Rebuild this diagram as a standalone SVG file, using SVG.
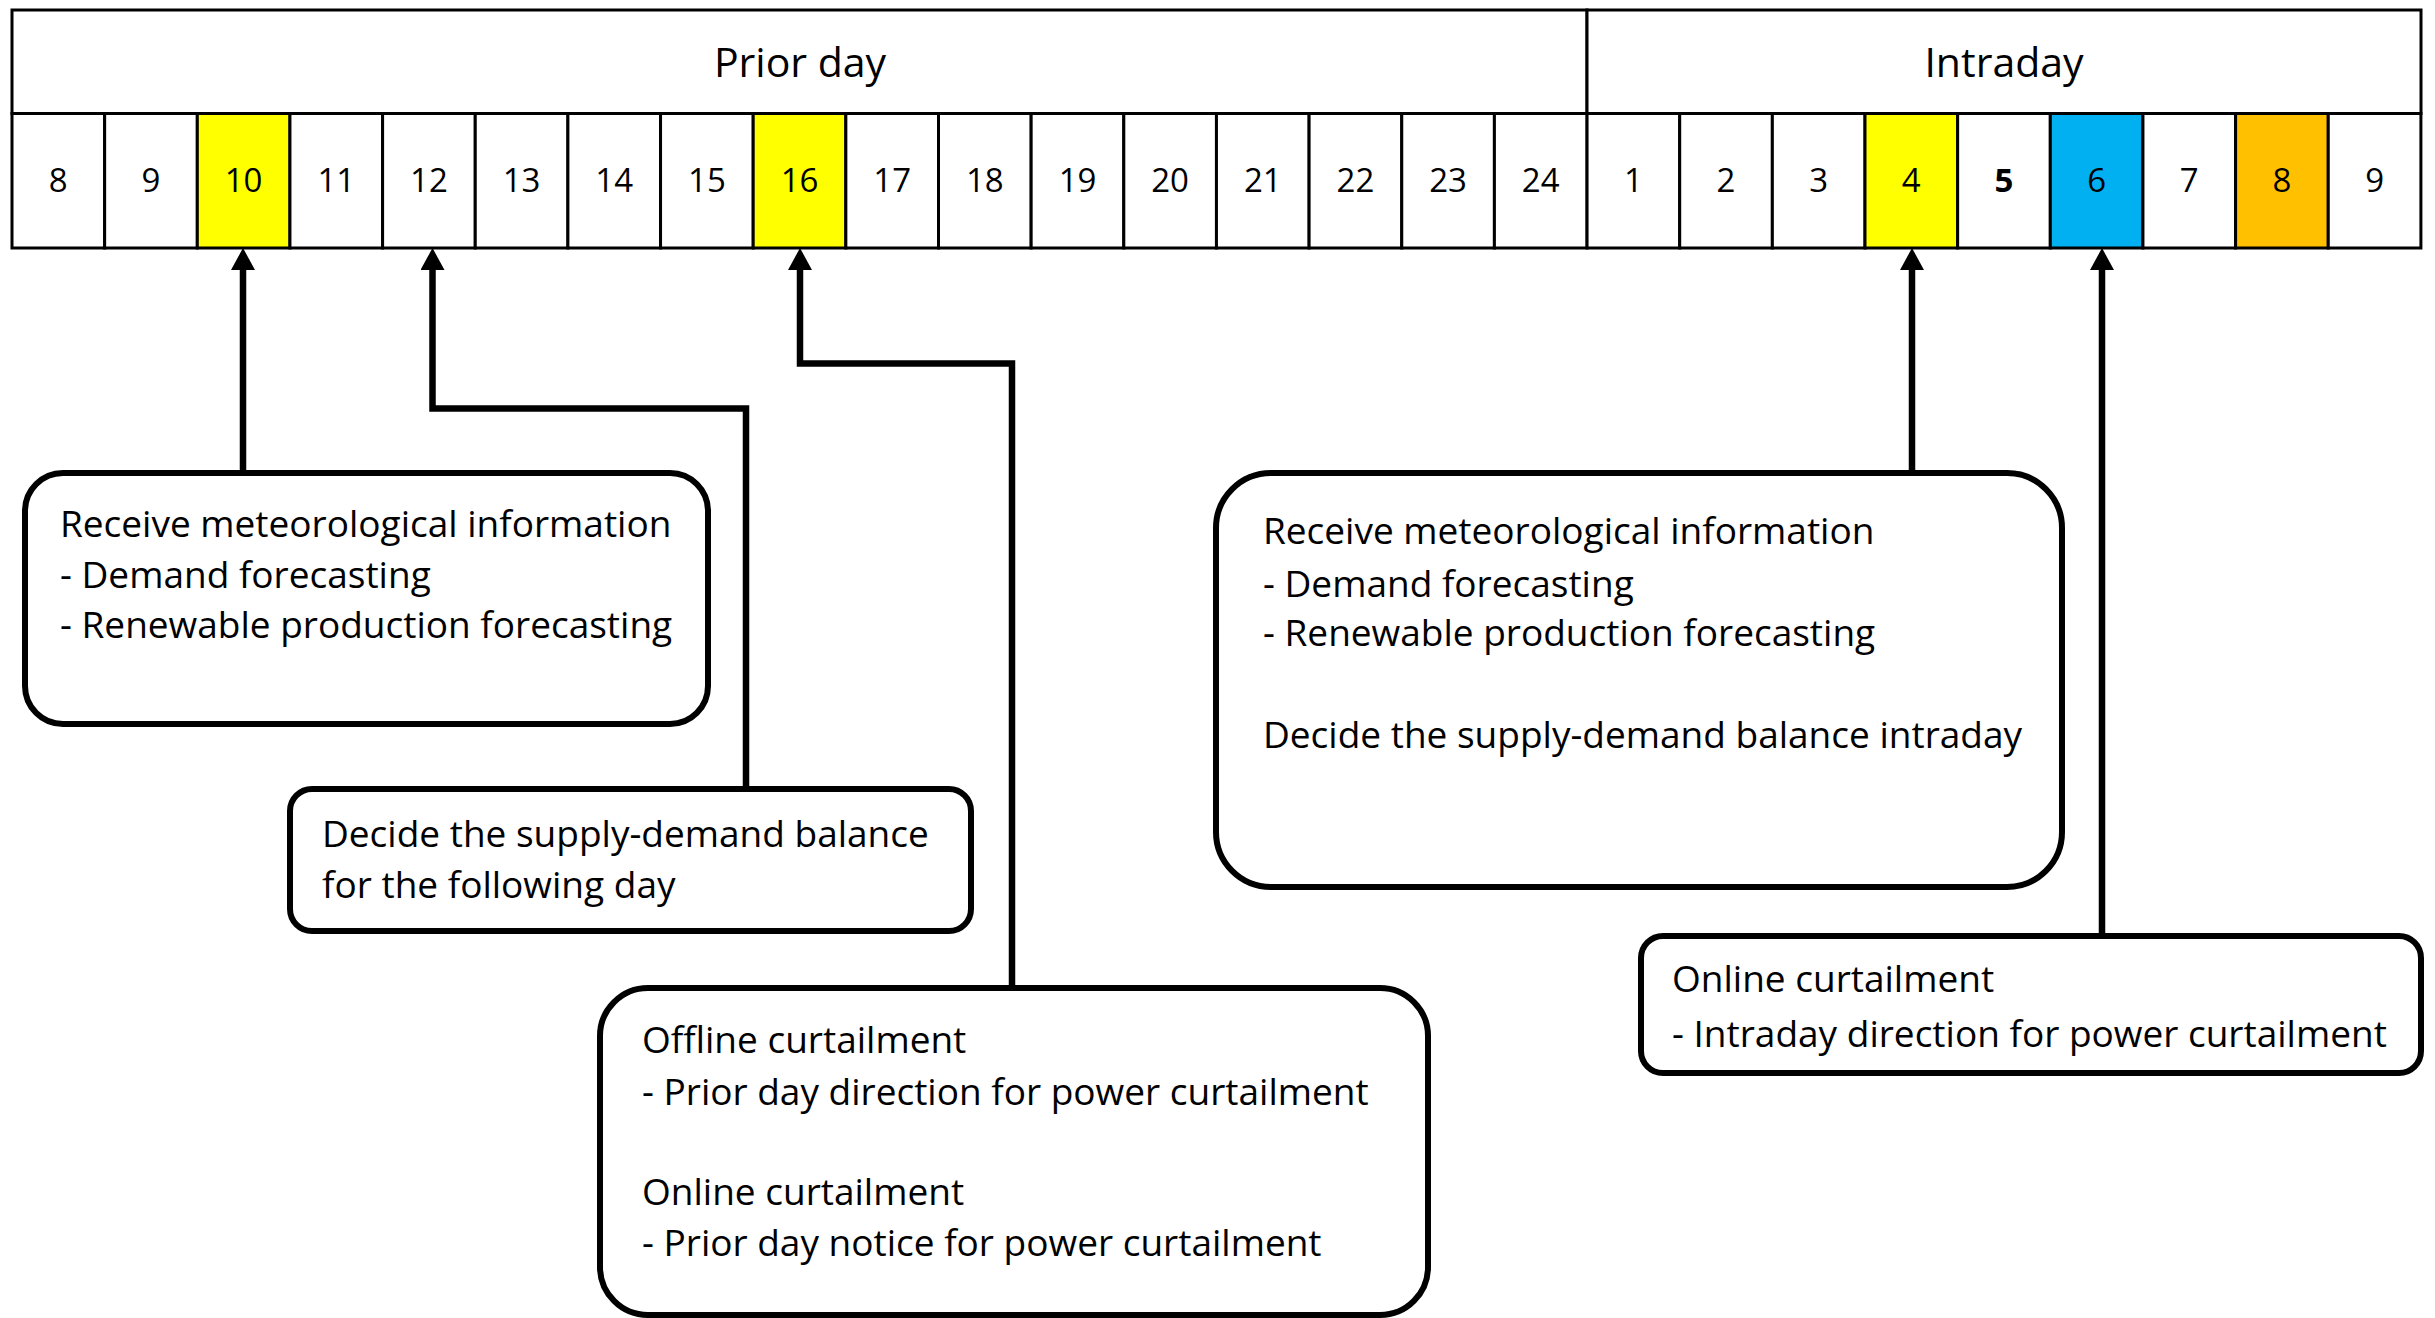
<svg xmlns="http://www.w3.org/2000/svg" width="2435" height="1318" viewBox="0 0 2435 1318">
<style>
text{font-family:"Open Sans","Liberation Sans",sans-serif;fill:#000}
.hd{font-size:41px;text-anchor:middle}
.num{font-size:33px;text-anchor:middle}
.b{font-weight:bold}
.bt{font-size:37px}
.cell{stroke:#000;stroke-width:3}
.box{fill:#fff;stroke:#000;stroke-width:6}
.con{fill:none;stroke:#000;stroke-width:6.5}
</style>
<defs>
<marker id="ah" markerUnits="userSpaceOnUse" viewBox="0 0 22 24" refX="0" refY="12" markerWidth="22" markerHeight="24" orient="auto">
<path d="M0,0 L22,12 L0,24 z" fill="#000"/>
</marker>
</defs>
<rect width="2435" height="1318" fill="#fff"/>
<g id="timeline">
<rect x="12" y="10" width="1575" height="103.5" fill="#fff" class="cell" stroke-width="3.5"/>
<rect x="1587" y="10" width="834" height="103.5" fill="#fff" class="cell" stroke-width="3.5"/>
<text class="hd" x="800" y="77">Prior day</text>
<text class="hd" x="2004" y="77">Intraday</text>
<g id="cells">
<rect x="12" y="113.5" width="92.65" height="134.5" fill="#fff" class="cell"/>
<rect x="104.65" y="113.5" width="92.65" height="134.5" fill="#fff" class="cell"/>
<rect x="197.3" y="113.5" width="92.65" height="134.5" fill="#FFFF00" class="cell"/>
<rect x="289.95" y="113.5" width="92.65" height="134.5" fill="#fff" class="cell"/>
<rect x="382.6" y="113.5" width="92.65" height="134.5" fill="#fff" class="cell"/>
<rect x="475.25" y="113.5" width="92.65" height="134.5" fill="#fff" class="cell"/>
<rect x="567.9" y="113.5" width="92.65" height="134.5" fill="#fff" class="cell"/>
<rect x="660.55" y="113.5" width="92.65" height="134.5" fill="#fff" class="cell"/>
<rect x="753.2" y="113.5" width="92.65" height="134.5" fill="#FFFF00" class="cell"/>
<rect x="845.85" y="113.5" width="92.65" height="134.5" fill="#fff" class="cell"/>
<rect x="938.5" y="113.5" width="92.65" height="134.5" fill="#fff" class="cell"/>
<rect x="1031.15" y="113.5" width="92.65" height="134.5" fill="#fff" class="cell"/>
<rect x="1123.8" y="113.5" width="92.65" height="134.5" fill="#fff" class="cell"/>
<rect x="1216.45" y="113.5" width="92.65" height="134.5" fill="#fff" class="cell"/>
<rect x="1309.1" y="113.5" width="92.65" height="134.5" fill="#fff" class="cell"/>
<rect x="1401.75" y="113.5" width="92.65" height="134.5" fill="#fff" class="cell"/>
<rect x="1494.4" y="113.5" width="92.65" height="134.5" fill="#fff" class="cell"/>
<rect x="1587.05" y="113.5" width="92.65" height="134.5" fill="#fff" class="cell"/>
<rect x="1679.7" y="113.5" width="92.65" height="134.5" fill="#fff" class="cell"/>
<rect x="1772.35" y="113.5" width="92.65" height="134.5" fill="#fff" class="cell"/>
<rect x="1865" y="113.5" width="92.65" height="134.5" fill="#FFFF00" class="cell"/>
<rect x="1957.65" y="113.5" width="92.65" height="134.5" fill="#fff" class="cell"/>
<rect x="2050.3" y="113.5" width="92.65" height="134.5" fill="#00B0F0" class="cell"/>
<rect x="2142.95" y="113.5" width="92.65" height="134.5" fill="#fff" class="cell"/>
<rect x="2235.6" y="113.5" width="92.65" height="134.5" fill="#FFC000" class="cell"/>
<rect x="2328.25" y="113.5" width="92.65" height="134.5" fill="#fff" class="cell"/>
</g>
<g id="cell-labels">
<text class="num" x="58.3" y="192">8</text>
<text class="num" x="151" y="192">9</text>
<text class="num" x="243.6" y="192">10</text>
<text class="num" x="336.3" y="192">11</text>
<text class="num" x="428.9" y="192">12</text>
<text class="num" x="521.6" y="192">13</text>
<text class="num" x="614.2" y="192">14</text>
<text class="num" x="706.9" y="192">15</text>
<text class="num" x="799.5" y="192">16</text>
<text class="num" x="892.2" y="192">17</text>
<text class="num" x="984.8" y="192">18</text>
<text class="num" x="1077.5" y="192">19</text>
<text class="num" x="1170.1" y="192">20</text>
<text class="num" x="1262.8" y="192">21</text>
<text class="num" x="1355.4" y="192">22</text>
<text class="num" x="1448.1" y="192">23</text>
<text class="num" x="1540.7" y="192">24</text>
<text class="num" x="1633.4" y="192">1</text>
<text class="num" x="1726" y="192">2</text>
<text class="num" x="1818.7" y="192">3</text>
<text class="num" x="1911.3" y="192">4</text>
<text class="num b" x="2004" y="192">5</text>
<text class="num" x="2096.6" y="192">6</text>
<text class="num" x="2189.3" y="192">7</text>
<text class="num" x="2281.9" y="192">8</text>
<text class="num" x="2374.6" y="192">9</text>
</g>
</g>
<g id="connectors">
<path class="con" d="M243,470 V270" marker-end="url(#ah)"/>
<path class="con" d="M746,786 V408.5 H432.5 V270" marker-end="url(#ah)"/>
<path class="con" d="M1012,985 V363.5 H800 V270" marker-end="url(#ah)"/>
<path class="con" d="M1912,470 V270" marker-end="url(#ah)"/>
<path class="con" d="M2102,933 V270" marker-end="url(#ah)"/>
</g>
<g id="box-prior-forecast">
<rect class="box" x="25" y="473" width="683" height="251" rx="38" ry="38"/>
<text class="bt" x="60" y="537">Receive meteorological information</text>
<text class="bt" x="60" y="588">- Demand forecasting</text>
<text class="bt" x="60" y="638">- Renewable production forecasting</text>
</g>
<g id="box-prior-balance">
<rect class="box" x="290" y="789" width="681" height="142" rx="22" ry="22"/>
<text class="bt" x="322" y="847">Decide the supply-demand balance</text>
<text class="bt" x="322" y="898">for the following day</text>
</g>
<g id="box-prior-curtailment">
<rect class="box" x="600" y="988" width="828" height="327" rx="48" ry="48"/>
<text class="bt" x="642" y="1053">Offline curtailment</text>
<text class="bt" x="642" y="1105">- Prior day direction for power curtailment</text>
<text class="bt" x="642" y="1205">Online curtailment</text>
<text class="bt" x="642" y="1256">- Prior day notice for power curtailment</text>
</g>
<g id="box-intraday-forecast">
<rect class="box" x="1216" y="473" width="846" height="414" rx="55" ry="55"/>
<text class="bt" x="1263" y="544">Receive meteorological information</text>
<text class="bt" x="1263" y="597">- Demand forecasting</text>
<text class="bt" x="1263" y="646">- Renewable production forecasting</text>
<text class="bt" x="1263" y="748">Decide the supply-demand balance intraday</text>
</g>
<g id="box-intraday-curtailment">
<rect class="box" x="1641" y="936" width="780" height="137" rx="22" ry="22"/>
<text class="bt" x="1672" y="992">Online curtailment</text>
<text class="bt" x="1672" y="1047">- Intraday direction for power curtailment</text>
</g>
</svg>
